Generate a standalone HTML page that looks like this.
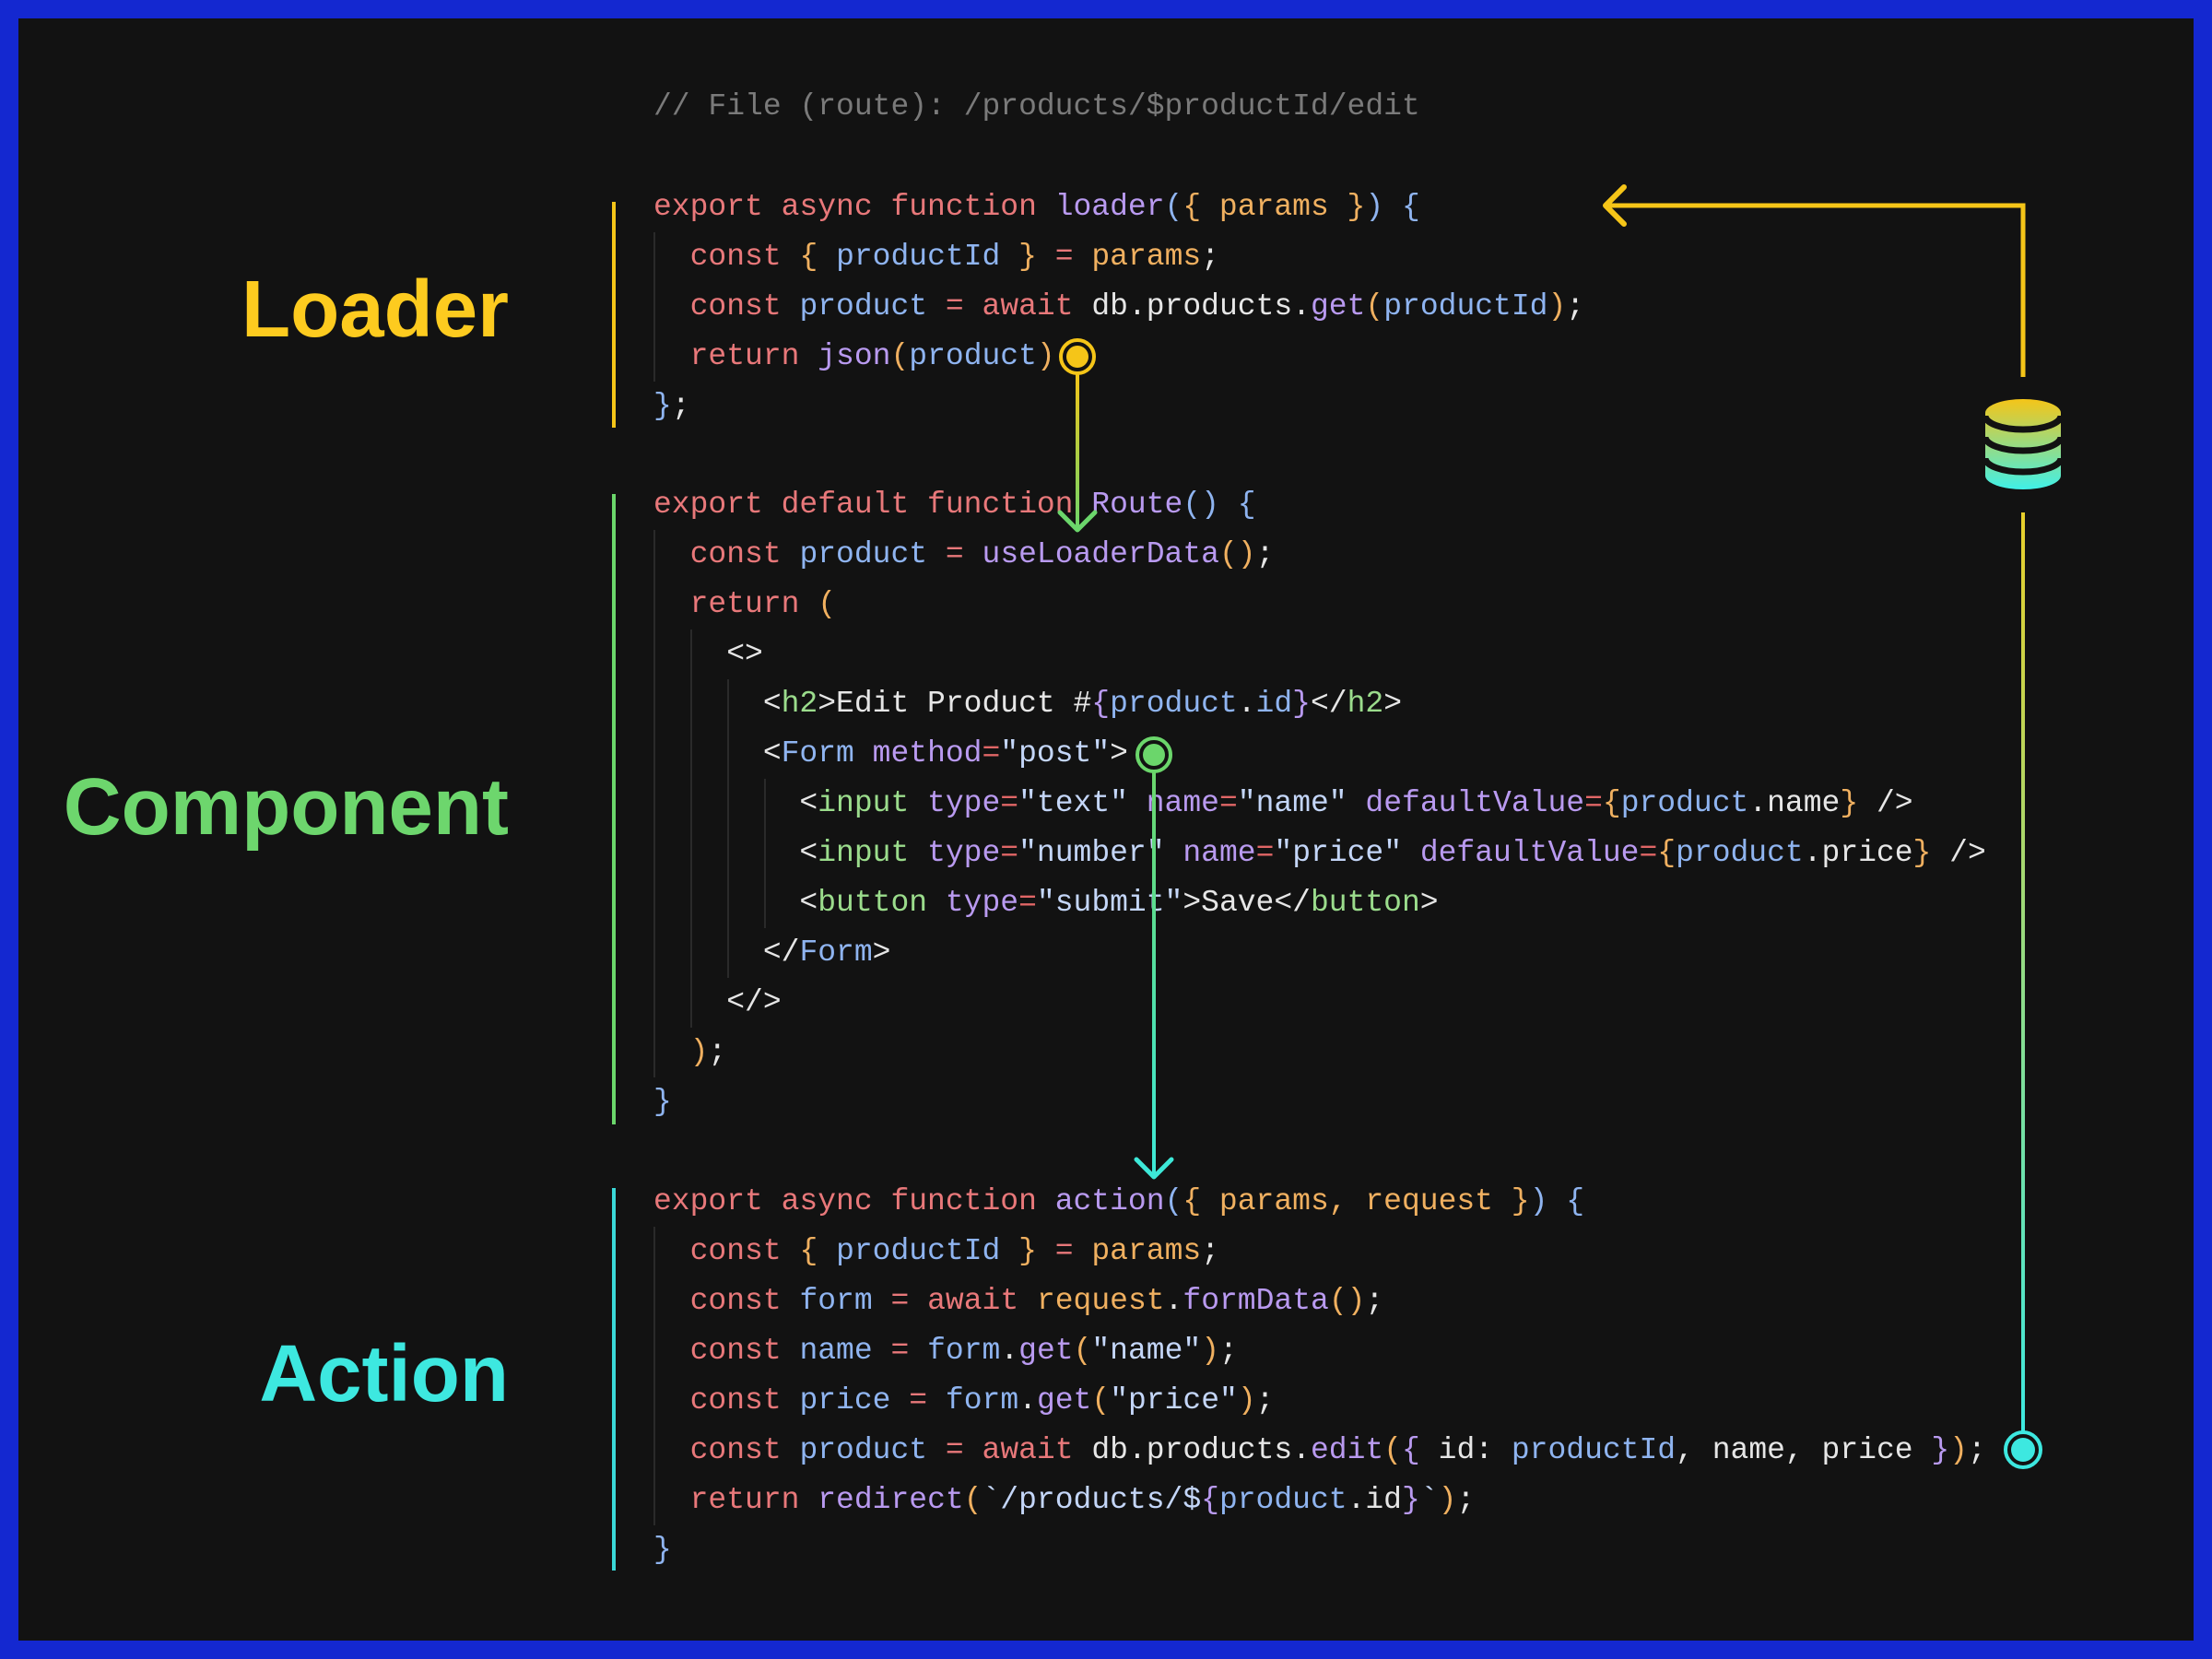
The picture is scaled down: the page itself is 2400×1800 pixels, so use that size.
<!DOCTYPE html>
<html><head><meta charset="utf-8"><style>
html,body{margin:0;padding:0}
body{width:2400px;height:1800px;background:#1428d0;position:relative;overflow:hidden}
#bg{position:absolute;left:20px;top:20px;width:2360px;height:1760px;background:#121212}
.code{position:absolute;left:709px;font-family:"Liberation Mono",monospace;font-size:33px;line-height:54px;white-space:pre;color:#e6e6e6}
.k{color:#e8787a}.f{color:#b99af0}.o{color:#f0b060}.v{color:#8fb4f0}.g{color:#9bdc8c}.s{color:#c4d6f8}.c{color:#7a7a7a}.r{color:#e06666}
.lbl{position:absolute;right:1848px;font-family:"Liberation Sans",sans-serif;font-weight:bold;font-size:87px;line-height:1}
.bar{position:absolute;left:664px;width:4px}
.guide{position:absolute;width:2px;background:#2a2a2a}
</style></head><body>
<div id="bg"></div>
<div class="code" style="top:89px"><span class="c">// File (route): /products/$productId/edit</span></div>

<div class="bar" style="top:219px;height:245px;background:#f5c518"></div>
<div class="bar" style="top:536px;height:684px;background:#6bd66b"></div>
<div class="bar" style="top:1289px;height:415px;background:#3ad8d8"></div>

<div class="guide" style="left:709px;top:252px;height:162px"></div>
<div class="guide" style="left:709px;top:575px;height:594px"></div>
<div class="guide" style="left:749px;top:683px;height:432px"></div>
<div class="guide" style="left:789px;top:737px;height:324px"></div>
<div class="guide" style="left:829px;top:845px;height:162px"></div>
<div class="guide" style="left:709px;top:1331px;height:324px"></div>

<div class="lbl" style="top:292px;color:#fdcb1f">Loader</div>
<div class="lbl" style="top:832px;color:#6dd66d">Component</div>
<div class="lbl" style="top:1447px;color:#3de8e0">Action</div>

<div class="code" style="top:198px"><span class="k">export async function</span> <span class="f">loader</span><span class="v">(</span><span class="o">{ params }</span><span class="v">)</span> <span class="v">{</span>
  <span class="k">const</span> <span class="o">{</span> <span class="v">productId</span> <span class="o">}</span> <span class="k">=</span> <span class="o">params</span>;
  <span class="k">const</span> <span class="v">product</span> <span class="k">=</span> <span class="k">await</span> db.products.<span class="f">get</span><span class="o">(</span><span class="v">productId</span><span class="o">)</span>;
  <span class="k">return</span> <span class="f">json</span><span class="o">(</span><span class="v">product</span><span class="o">)</span>
<span class="v">}</span>;</div>

<div class="code" style="top:521px"><span class="k">export default function</span> <span class="f">Route</span><span class="v">()</span> <span class="v">{</span>
  <span class="k">const</span> <span class="v">product</span> <span class="k">=</span> <span class="f">useLoaderData</span><span class="o">()</span>;
  <span class="k">return</span> <span class="o">(</span>
    &lt;&gt;
      &lt;<span class="g">h2</span>&gt;Edit Product #<span class="f">{</span><span class="v">product</span>.<span class="v">id</span><span class="f">}</span>&lt;/<span class="g">h2</span>&gt;
      &lt;<span class="v">Form</span> <span class="f">method</span><span class="r">=</span><span class="s">"post"</span>&gt;
        &lt;<span class="g">input</span> <span class="f">type</span><span class="r">=</span><span class="s">"text"</span> <span class="f">name</span><span class="r">=</span><span class="s">"name"</span> <span class="f">defaultValue</span><span class="r">=</span><span class="o">{</span><span class="v">product</span>.name<span class="o">}</span> /&gt;
        &lt;<span class="g">input</span> <span class="f">type</span><span class="r">=</span><span class="s">"number"</span> <span class="f">name</span><span class="r">=</span><span class="s">"price"</span> <span class="f">defaultValue</span><span class="r">=</span><span class="o">{</span><span class="v">product</span>.price<span class="o">}</span> /&gt;
        &lt;<span class="g">button</span> <span class="f">type</span><span class="r">=</span><span class="s">"submit"</span>&gt;Save&lt;/<span class="g">button</span>&gt;
      &lt;/<span class="v">Form</span>&gt;
    &lt;/&gt;
  <span class="o">)</span>;
<span class="v">}</span></div>

<div class="code" style="top:1277px"><span class="k">export async function</span> <span class="f">action</span><span class="v">(</span><span class="o">{ params, request }</span><span class="v">)</span> <span class="v">{</span>
  <span class="k">const</span> <span class="o">{</span> <span class="v">productId</span> <span class="o">}</span> <span class="k">=</span> <span class="o">params</span>;
  <span class="k">const</span> <span class="v">form</span> <span class="k">=</span> <span class="k">await</span> <span class="o">request</span>.<span class="f">formData</span><span class="o">()</span>;
  <span class="k">const</span> <span class="v">name</span> <span class="k">=</span> <span class="v">form</span>.<span class="f">get</span><span class="o">(</span><span class="s">"name"</span><span class="o">)</span>;
  <span class="k">const</span> <span class="v">price</span> <span class="k">=</span> <span class="v">form</span>.<span class="f">get</span><span class="o">(</span><span class="s">"price"</span><span class="o">)</span>;
  <span class="k">const</span> <span class="v">product</span> <span class="k">=</span> <span class="k">await</span> db.products.<span class="f">edit</span><span class="o">(</span><span class="f">{</span> id: <span class="v">productId</span>, name, price <span class="f">}</span><span class="o">)</span>;
  <span class="k">return</span> <span class="f">redirect</span><span class="o">(</span><span class="s">`/products/$</span><span class="f">{</span><span class="v">product</span>.id<span class="f">}</span><span class="s">`</span><span class="o">)</span>;
<span class="v">}</span></div>

<svg width="2400" height="1800" style="position:absolute;left:0;top:0" xmlns="http://www.w3.org/2000/svg">
<defs>
<linearGradient id="g1" x1="0" y1="0" x2="0" y2="1"><stop offset="0" stop-color="#f5c518"/><stop offset="1" stop-color="#6bd66b"/></linearGradient>
<linearGradient id="g2" x1="0" y1="0" x2="0" y2="1"><stop offset="0" stop-color="#6bd66b"/><stop offset="1" stop-color="#3de8d8"/></linearGradient>
<linearGradient id="g4" gradientUnits="userSpaceOnUse" x1="0" y1="556" x2="0" y2="1553"><stop offset="0" stop-color="#e8cf2a"/><stop offset="1" stop-color="#3de8e0"/></linearGradient>
<linearGradient id="gdb" x1="0" y1="0" x2="0" y2="1"><stop offset="0" stop-color="#f5c518"/><stop offset="1" stop-color="#40f0e8"/></linearGradient>
</defs>
<rect x="1167" y="405" width="4" height="170" fill="url(#g1)"/>
<polyline points="1150,556 1169,575 1188,556" fill="none" stroke="#6bd66b" stroke-width="5" stroke-linecap="round" stroke-linejoin="round"/>
<circle cx="1169" cy="387" r="18" fill="none" stroke="#f5c518" stroke-width="4"/>
<circle cx="1169" cy="387" r="12" fill="#f5c518"/>
<rect x="1250" y="837" width="4" height="441" fill="url(#g2)"/>
<polyline points="1233,1258 1252,1277 1271,1258" fill="none" stroke="#3de8d8" stroke-width="5" stroke-linecap="round" stroke-linejoin="round"/>
<circle cx="1252" cy="819" r="18" fill="none" stroke="#6bd66b" stroke-width="4"/>
<circle cx="1252" cy="819" r="12" fill="#6bd66b"/>
<polyline points="2195,409 2195,223 1742,223" fill="none" stroke="#f5c518" stroke-width="5"/>
<polyline points="1762,203 1742,223 1762,243" fill="none" stroke="#f5c518" stroke-width="6" stroke-linecap="round" stroke-linejoin="round"/>
<rect x="2193" y="556" width="4" height="997" fill="url(#g4)"/>
<circle cx="2195" cy="1573" r="19" fill="none" stroke="#3de8e0" stroke-width="4"/>
<circle cx="2195" cy="1573" r="13" fill="#3de8e0"/>
<path d="M2154,448 A41,15 0 0 1 2236,448 L2236,516 A41,15 0 0 1 2154,516 Z" fill="url(#gdb)"/>
<path d="M2154,451 A41,15 0 0 0 2236,451" fill="none" stroke="#121212" stroke-width="7"/>
<path d="M2154,474 A41,15 0 0 0 2236,474" fill="none" stroke="#121212" stroke-width="7"/>
<path d="M2154,497 A41,15 0 0 0 2236,497" fill="none" stroke="#121212" stroke-width="7"/>
</svg>
</body></html>
